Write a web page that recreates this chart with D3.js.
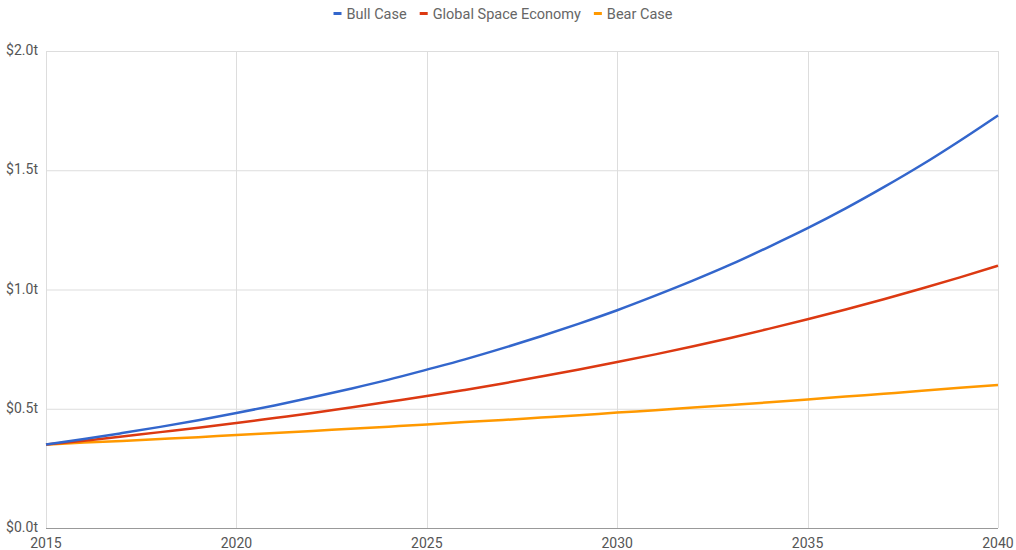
<!DOCTYPE html>
<meta charset="utf-8">
<html>
<head>
<script src="https://d3js.org/d3.v7.min.js"></script>
<style>
  body { margin: 0; background: #fff; }
  text { font-family: Roboto, "Noto Sans", sans-serif; }
</style>
</head>
<body>
<svg id="chart" width="1016" height="550"></svg>
</body>
</html>
<script>

// Data (trillions of dollars)
var years = d3.range(2015, 2041);
var bullCase = [0.350, 0.373, 0.398, 0.424, 0.452, 0.482, 0.514, 0.548, 0.584, 0.622, 0.664, 0.707, 0.754,
  0.804, 0.857, 0.913, 0.974, 1.038, 1.106, 1.180, 1.257, 1.340, 1.429, 1.523, 1.624, 1.730];
var globalSpace = [0.350, 0.366, 0.384, 0.402, 0.420, 0.440, 0.461, 0.482, 0.505, 0.529, 0.553, 0.579, 0.606,
  0.635, 0.665, 0.696, 0.728, 0.762, 0.798, 0.836, 0.875, 0.916, 0.959, 1.004, 1.051, 1.100];
var bearCase = [0.350, 0.358, 0.365, 0.373, 0.381, 0.390, 0.398, 0.407, 0.416, 0.425, 0.434, 0.444, 0.453,
  0.463, 0.473, 0.484, 0.494, 0.505, 0.516, 0.527, 0.539, 0.551, 0.563, 0.575, 0.588, 0.600];
var seriesNames = ["Bull Case", "Global Space Economy", "Bear Case"];
var xTicks = [2015, 2020, 2025, 2030, 2035, 2040];
var yTicks = [0, 0.5, 1.0, 1.5, 2.0];

var colors = ["#3366cc", "#dc3912", "#ff9900"];
var series = [bullCase, globalSpace, bearCase];

var svg = d3.select("#chart");
var margin = {left: 46, right: 18, top: 51, bottom: 22};
var width = 1016, height = 550;

var x = d3.scaleLinear().domain([2015, 2040]).range([margin.left, width - margin.right]);
var y = d3.scaleLinear().domain([0, 2]).range([height - margin.bottom, margin.top]);

// gridlines
svg.append("g")
  .selectAll("line")
  .data(yTicks)
  .enter().append("line")
    .attr("x1", x(2015)).attr("x2", x(2040))
    .attr("y1", function(d) { return y(d) + 0.5; })
    .attr("y2", function(d) { return y(d) + 0.5; })
    .attr("stroke", "#dddddd");

svg.append("g")
  .selectAll("line")
  .data(xTicks)
  .enter().append("line")
    .attr("x1", function(d) { return Math.round(x(d)) + 0.5; })
    .attr("x2", function(d) { return Math.round(x(d)) + 0.5; })
    .attr("y1", y(2)).attr("y2", y(0))
    .attr("stroke", "#dddddd");

// baseline
svg.append("line")
  .attr("x1", x(2015)).attr("x2", x(2040))
  .attr("y1", y(0) + 0.5).attr("y2", y(0) + 0.5)
  .attr("stroke", "#999999");

// y labels
svg.append("g")
  .selectAll("text")
  .data(yTicks)
  .enter().append("text")
    .attr("x", 38)
    .attr("y", function(d) { return y(d) + 4; })
    .attr("text-anchor", "end")
    .attr("font-size", 14)
    .attr("fill", "#555")
    .text(function(d) { return "$" + d3.format(".1f")(d) + "t"; });

// x labels
svg.append("g")
  .selectAll("text")
  .data(xTicks)
  .enter().append("text")
    .attr("x", function(d) { return x(d); })
    .attr("y", height - 2)
    .attr("text-anchor", "middle")
    .attr("font-size", 14)
    .attr("fill", "#555")
    .text(function(d) { return d; });

// lines
var line = d3.line()
  .x(function(d, i) { return x(years[i]); })
  .y(function(d) { return y(d); })
  .curve(d3.curveMonotoneX);

svg.append("g")
  .selectAll("path")
  .data(series.slice().reverse())
  .enter().append("path")
    .attr("d", line)
    .attr("fill", "none")
    .attr("stroke", function(d, i) { return colors[2 - i]; })
    .attr("stroke-width", 2.5);

// legend
var legend = svg.append("g");
var xpos = 0;
seriesNames.forEach(function(name, i) {
  var g = legend.append("g").attr("transform", "translate(" + xpos + ",0)");
  g.append("rect").attr("x", 0).attr("y", 12).attr("width", 8).attr("height", 3).attr("fill", colors[i]);
  var t = g.append("text").attr("x", 13).attr("y", 19)
    .attr("font-size", 14.5).attr("fill", "#666").text(name);
  xpos += 13 + t.node().getComputedTextLength() + 13;
});
var legendWidth = xpos - 13;
legend.attr("transform", "translate(" + (503 - legendWidth / 2) + ",0)");

</script>
